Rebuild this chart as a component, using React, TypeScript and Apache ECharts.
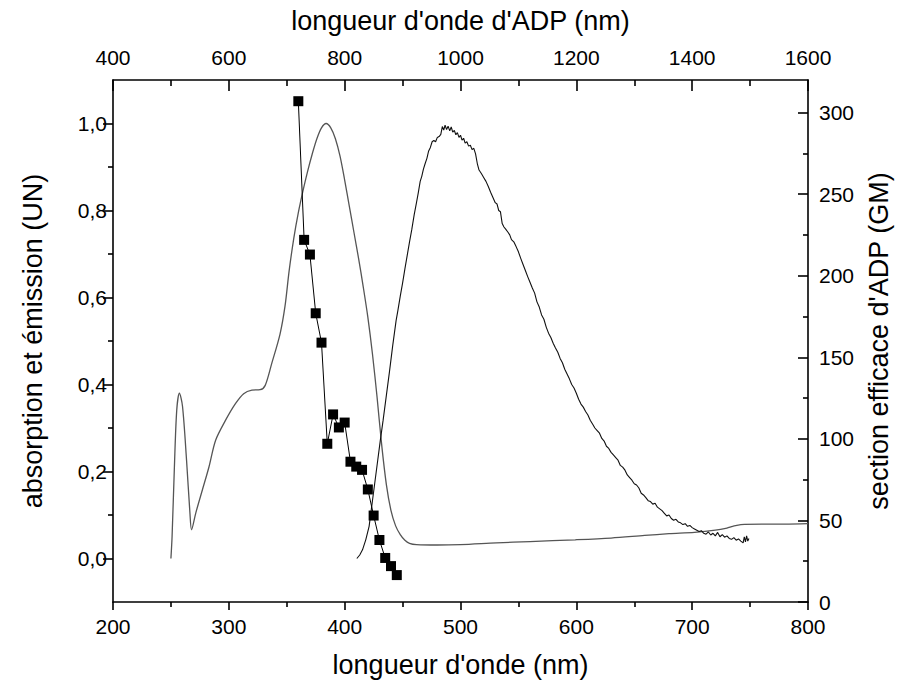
import React, { useEffect, useRef } from "react";
import * as echarts from "echarts";

// Absorption spectrum (bottom axis nm, left axis UN)
const absWl = [250, 251, 253, 255, 257.3, 260, 263.5, 266.4, 267.8, 271.5, 277.2, 282.9, 288.6, 297.2, 305.7, 312.8, 319.9, 327, 331.4, 337, 344.2, 348.5, 352, 356, 360, 364, 368, 372, 376, 380, 384, 388, 392, 396, 400, 404, 408, 412, 416, 420, 424, 428, 432, 436, 440, 444, 448, 452, 456, 462, 480, 500, 531, 560, 599, 630, 659, 680, 702, 720, 730, 735, 742, 760, 780, 800];
const absVal = [0.0, 0.05, 0.21, 0.34, 0.38, 0.35, 0.226, 0.105, 0.066, 0.105, 0.158, 0.211, 0.272, 0.318, 0.356, 0.379, 0.387, 0.388, 0.398, 0.448, 0.516, 0.58, 0.66, 0.735, 0.795, 0.845, 0.89, 0.93, 0.965, 0.99, 1.0, 0.99, 0.965, 0.925, 0.87, 0.81, 0.75, 0.69, 0.625, 0.555, 0.47, 0.37, 0.26, 0.17, 0.11, 0.075, 0.055, 0.042, 0.035, 0.032, 0.031, 0.032, 0.036, 0.039, 0.043, 0.047, 0.053, 0.057, 0.06, 0.065, 0.07, 0.074, 0.078, 0.079, 0.079, 0.08];

// Emission spectrum (bottom axis nm, left axis UN)
const emiWl = [410.5, 413, 415.4, 418.2, 421.1, 424.1, 428.6, 430.8, 433.2, 436, 438.8, 441.5, 444.4, 446, 448, 450, 452, 454, 456, 458, 460, 462, 463.5, 465.2, 466.5, 468, 469.5, 471, 472.4, 474, 475.5, 477, 478.5, 480, 481.5, 483, 484.3, 485.5, 486.7, 488, 489.3, 490.7, 492, 493.3, 494.7, 496, 497.3, 498.7, 500, 501.3, 502.7, 504, 505.5, 507, 508.5, 510, 511.5, 513, 514.5, 516, 518, 520, 522, 524, 526, 528, 530, 531.5, 533, 534.5, 536, 537.5, 539, 541, 542.5, 544, 546, 548, 550, 552, 554, 556, 558, 560, 562, 564, 566, 568, 570, 572, 574, 576, 578, 580, 582, 584, 586, 588, 590, 592, 594, 596, 598, 600, 602, 604, 606, 608, 610, 612, 614, 616, 618, 620, 622, 624, 626, 628, 630, 632, 634, 636, 638, 640, 642, 644, 646, 648, 650, 652, 654, 656, 658, 660, 662, 664, 666, 668, 670, 672, 674, 676, 678, 680, 682, 684, 686, 688, 690, 692, 694, 696, 698, 700, 702, 704, 706, 708, 710, 712, 714, 716, 718, 720, 722, 724, 726, 728, 730, 732, 734, 736, 738, 740, 742, 744, 745, 746, 747, 748, 749];
const emiVal = [0.0, 0.008, 0.02, 0.043, 0.074, 0.135, 0.227, 0.272, 0.318, 0.375, 0.432, 0.49, 0.547, 0.571, 0.603, 0.633, 0.666, 0.697, 0.728, 0.757, 0.79, 0.818, 0.84, 0.867, 0.878, 0.895, 0.908, 0.92, 0.936, 0.945, 0.958, 0.961, 0.958, 0.968, 0.97, 0.975, 0.993, 0.985, 0.996, 0.986, 0.994, 0.983, 0.992, 0.98, 0.984, 0.974, 0.979, 0.968, 0.973, 0.962, 0.966, 0.955, 0.958, 0.948, 0.95, 0.94, 0.943, 0.93, 0.908, 0.893, 0.885, 0.876, 0.867, 0.855, 0.842, 0.83, 0.818, 0.815, 0.8, 0.797, 0.77, 0.762, 0.757, 0.75, 0.744, 0.733, 0.728, 0.717, 0.705, 0.69, 0.676, 0.662, 0.648, 0.635, 0.622, 0.61, 0.59, 0.578, 0.56, 0.55, 0.532, 0.518, 0.508, 0.495, 0.484, 0.474, 0.46, 0.45, 0.435, 0.424, 0.413, 0.4, 0.392, 0.38, 0.366, 0.355, 0.348, 0.338, 0.33, 0.318, 0.309, 0.3, 0.294, 0.288, 0.276, 0.27, 0.258, 0.253, 0.244, 0.238, 0.232, 0.226, 0.214, 0.21, 0.203, 0.192, 0.186, 0.18, 0.172, 0.169, 0.162, 0.15, 0.146, 0.14, 0.133, 0.131, 0.125, 0.127, 0.118, 0.114, 0.11, 0.104, 0.098, 0.1, 0.092, 0.088, 0.09, 0.084, 0.082, 0.078, 0.08, 0.074, 0.076, 0.071, 0.068, 0.065, 0.062, 0.064, 0.058, 0.056, 0.061, 0.054, 0.058, 0.052, 0.06, 0.05, 0.055, 0.049, 0.052, 0.046, 0.044, 0.048, 0.042, 0.045, 0.04, 0.036, 0.05, 0.038, 0.052, 0.04, 0.046];

// ADP two-photon cross-section (top axis nm, right axis GM)
const adpWl = [720, 730, 740, 750, 760, 770, 780, 790, 800, 810, 820, 830, 840, 850, 860, 870, 880, 890];
const adpGM = [307, 222, 213, 177, 159, 97, 115, 107, 110, 86, 83, 81, 69, 53, 38, 27, 22, 16.5];

const leftLabels = [0, 0.2, 0.4, 0.6, 0.8, 1.0];
const leftMinor = [0.1, 0.3, 0.5, 0.7, 0.9];
const rightLabels = [0, 50, 100, 150, 200, 250, 300];
const rightMinor = [25, 75, 125, 175, 225, 275];

const FONT = "'Liberation Sans', Arial, sans-serif";
const LS = { color: "#000", width: 1.6 };

export default function App() {
  const ref = useRef<HTMLDivElement>(null);
  useEffect(() => {
    const chart = echarts.init(ref.current!, null, { renderer: "svg" });
    const labelStyle = { fontSize: 21, color: "#000", fontFamily: FONT };
    const nameStyle = { fontSize: 27, color: "#000", fontFamily: FONT };
    chart.setOption({
      animation: false,
      backgroundColor: "#fff",
      grid: { left: 113, right: 85, top: 80, bottom: 85, containLabel: false },
      xAxis: [
        {
          type: "value", position: "bottom", min: 200, max: 800, interval: 100,
          name: "longueur d'onde (nm)", nameLocation: "middle", nameGap: 49, nameTextStyle: nameStyle,
          axisLine: { show: true, onZero: false, lineStyle: LS },
          axisTick: { show: true, inside: false, length: 8, lineStyle: LS },
          minorTick: { show: true, splitNumber: 2, length: 5, lineStyle: LS },
          axisLabel: { ...labelStyle, margin: 14, formatter: (v: number) => String(v) },
          splitLine: { show: false },
        },
        {
          type: "value", position: "top", min: 400, max: 1600, interval: 200,
          name: "longueur d'onde d'ADP (nm)", nameLocation: "middle", nameGap: 46, nameTextStyle: nameStyle,
          axisLine: { show: true, onZero: false, lineStyle: LS },
          axisTick: { show: true, inside: true, length: 11, lineStyle: LS },
          minorTick: { show: true, splitNumber: 2, length: 6, lineStyle: LS },
          axisLabel: { ...labelStyle, margin: 12, formatter: (v: number) => String(v) },
          splitLine: { show: false },
        },
      ],
      yAxis: [
        {
          type: "value", position: "left", min: -0.1, max: 1.1,
          name: "absorption et émission (UN)", nameLocation: "middle", nameGap: 67, nameRotate: 90, nameTextStyle: nameStyle,
          axisLine: { show: true, onZero: false, lineStyle: LS },
          axisTick: { show: true, inside: false, length: 10, lineStyle: LS, customValues: leftLabels },
          axisLabel: { ...labelStyle, margin: 6, customValues: leftLabels, formatter: (v: number) => v.toFixed(1).replace(".", ",") },
          splitLine: { show: false },
        },
        {
          type: "value", position: "right", min: 0, max: 320,
          name: "section efficace d'ADP (GM)", nameLocation: "middle", nameGap: 57, nameRotate: 90, nameTextStyle: nameStyle,
          axisLine: { show: true, onZero: false, lineStyle: LS },
          axisTick: { show: true, inside: true, length: 10, lineStyle: LS, customValues: rightLabels },
          axisLabel: { ...labelStyle, margin: 11, customValues: rightLabels },
          splitLine: { show: false },
        },
        {
          type: "value", position: "left", min: -0.1, max: 1.1,
          axisLine: { show: false },
          axisTick: { show: true, inside: false, length: 5, lineStyle: LS, customValues: leftMinor },
          axisLabel: { show: false },
          splitLine: { show: false },
        },
        {
          type: "value", position: "right", min: 0, max: 320,
          axisLine: { show: false },
          axisTick: { show: true, inside: true, length: 5, lineStyle: LS, customValues: rightMinor },
          axisLabel: { show: false },
          splitLine: { show: false },
        },
      ],
      series: [
        {
          type: "line", name: "absorption", xAxisIndex: 0, yAxisIndex: 0,
          data: absWl.map((w, i) => [w, absVal[i]]),
          showSymbol: false, smooth: 0.3,
          lineStyle: { color: "#555", width: 1.3 },
          z: 2,
        },
        {
          type: "line", name: "émission", xAxisIndex: 0, yAxisIndex: 0,
          data: emiWl.map((w, i) => [w, emiVal[i]]),
          showSymbol: false,
          lineStyle: { color: "#111", width: 1.1 },
          z: 3,
        },
        {
          type: "line", name: "ADP", xAxisIndex: 1, yAxisIndex: 1,
          data: adpWl.map((w, i) => [w, adpGM[i]]),
          symbol: "rect", symbolSize: 10, showSymbol: true,
          lineStyle: { color: "#000", width: 1 },
          itemStyle: { color: "#000" },
          z: 4,
        },
      ],
    });
    return () => chart.dispose();
  }, []);
  return (
    <div
      ref={ref}
      style={{ position: "fixed", left: 0, top: 0, width: 900, height: 687, background: "#fff" }}
    />
  );
}
